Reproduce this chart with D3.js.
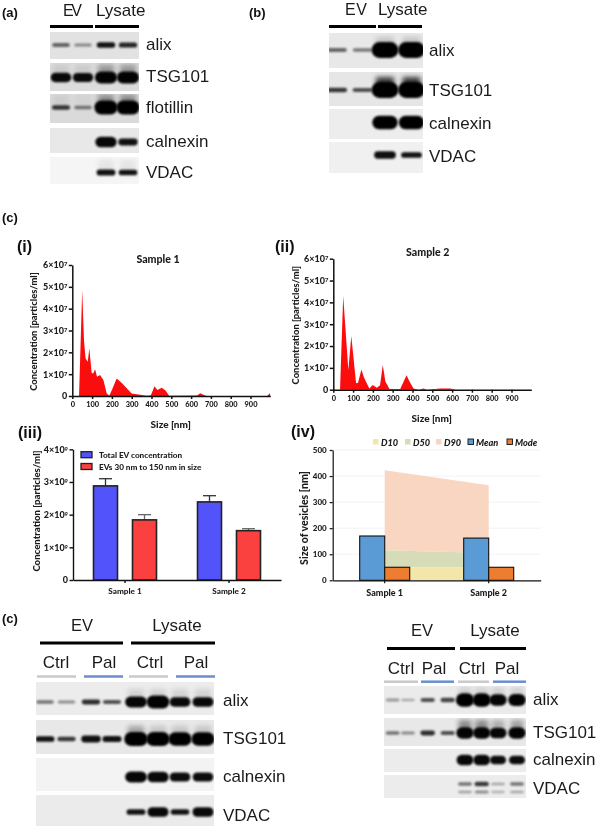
<!DOCTYPE html>
<html><head><meta charset="utf-8">
<script src="https://cdn.jsdelivr.net/npm/d3@7/dist/d3.min.js"></script>
<style>
html,body{margin:0;padding:0;background:#fff}
svg{display:block;filter:blur(0.3px)}
.wb{font-family:"Liberation Sans",Arial,sans-serif;fill:#1a1a1a}
.cal{font-family:Lato,"Open Sans",sans-serif;font-weight:900;fill:#1c1c1c}
.tag{font-family:"Liberation Sans",Arial,sans-serif;font-weight:700;fill:#111}
</style></head><body>
<svg id="c" width="600" height="828"></svg>
<script>
// ---------- data ----------
const sampleNames = ["Sample 1","Sample 2"];
const sizeTicks = [0,100,200,300,400,500,600,700,800,900];
const concTicks = [0,1,2,3,4,5,6];
const concTicks3 = [0,1,2,3,4];
const sizeYTicks = [0,100,200,300,400,500];

const s1Size = [34,50,59,67,78,86,98,106,115,125,140,157,174,187,200,224,250,275,300,351,376,397,415,430,452,472,489,630,646,667,680,984,998,1000];
const s1Conc = [0,4.85,2.55,1.72,1.57,2.18,1.04,1.04,1.22,.88,.96,.73,.12,.02,.27,.8,.6,.35,.12,.05,.01,.03,.45,.27,.38,.24,.01,.02,.13,.03,0,0,.13,0];
const s2Size = [34,50,76,91,115,125,142,155,182,199,220,236,250,263,284,338,370,385,405,431,456,473,540,591,617,997];
const s2Conc = [0,4.29,.9,2.46,.29,.32,.93,.56,.06,.21,.09,.2,1.13,.37,.03,.03,.66,.37,.05,0,.06,0,.05,.06,0,0];

const totalEV = [2.88,2.39];
const totalErr = [3.10,2.58];
const smallEV = [1.84,1.51];
const smallErr = [2.00,1.57];
const concSeries = ["Total EV concentration","EVs 30 nm to 150 nm in size"];

const d10 = [50,50];
const d50 = [115,105];
const d90 = [422,365];
const meanSize = [170,162];
const modeSize = [50,50];
const sizeSeries = ["D10","D50","D90","Mean","Mode"];

const blotAProteins = ["alix","TSG101","flotillin","calnexin","VDAC"];
const blotABands = [[.16,.10,.3,.27],[.62,.58,.85,.85],[.24,.13,1,1],[0,0,.72,.42],[0,0,.36,.32]];
const blotASmear = [[0,0,0,0],[.08,.08,.3,.3],[.05,.03,.35,.35],[0,0,0,0],[0,0,.06,.06]];
const blotBProteins = ["alix","TSG101","calnexin","VDAC"];
const blotBBands = [[.16,.13,1.15,1.15],[.24,.2,1.15,1.15],[0,0,.95,.95],[0,0,.45,.32]];
const blotBSmear = [[0,0,.15,.15],[0,0,.75,.75],[0,0,0,0],[0,0,0,0]];
const blotCProteins = ["alix","TSG101","calnexin","VDAC"];
const blotCBands = [[.14,.1,.26,.2,.75,.9,.62,.65],[.32,.24,.42,.36,1,1,.95,.95],[0,0,0,0,.75,.7,.6,.6],[0,0,0,0,.32,.65,.3,.65]];
const blotCSmear = [[0,0,0,0,.1,.1,.1,.1],[0,0,0,0,.3,.15,.15,.15],[0,0,0,0,0,0,0,0],[0,0,0,0,0,0,0,0]];
const blotDProteins = ["alix","TSG101","calnexin","VDAC",""];
const blotDBands = [[.08,.05,.2,.22,.95,.95,.8,.85],[.14,.1,.26,.2,.8,.8,.72,.8],[0,0,0,0,.7,.7,.55,.55],[0,0,0,0,.14,.24,.06,.14],[0,0,0,0,.07,.1,.04,.06]];
const blotDSmear = [[0,0,0,0,.1,.1,.1,.1],[0,0,0,0,.4,.4,.25,.3],[0,0,0,0,0,0,0,0],[0,0,0,0,0,0,0,0],[0,0,0,0,0,0,0,0]];

// ---------- helpers ----------
const svg = d3.select("#c");
const defs = svg.append("defs");
[["b1",1.1],["b2",2.4]].forEach(([id,s])=>defs.append("filter").attr("id",id)
  .attr("x","-30%").attr("y","-60%").attr("width","160%").attr("height","220%")
  .append("feGaussianBlur").attr("stdDeviation",s));

function text(x,y,t,cls,size,opts={}){
  const n = svg.append("text").attr("x",x).attr("y",y).attr("class",cls)
    .attr("font-size",size).attr("text-anchor",opts.anchor||"start").text(t);
  if(opts.rotate) n.attr("transform",`rotate(-90 ${x} ${y})`);
  if(opts.italic) n.attr("font-style","italic");
  return n;
}
const dark = d3.scaleLinear().domain([0,.3,1]).range([.15,.92,1]).clamp(true);
const thick = d3.scaleLinear().domain([0,1]).range([.9,7]);

function blot(cfg,names,bands,smear){
  const lx = i=>cfg.lanes[i];
  const step = (cfg.lanes[cfg.lanes.length-1]-cfg.lanes[0])/(cfg.lanes.length-1);
  names.forEach((name,r)=>{
    const [y0,y1,by,ty] = cfg.rows[r];
    if(name){
      svg.append("rect").attr("x",cfg.x0).attr("y",y0).attr("width",cfg.x1-cfg.x0).attr("height",y1-y0)
        .attr("fill",cfg.shade[r]);
      text(cfg.labelX,ty+6,name,"wb",cfg.font);
    }
    const g = svg.append("g").attr("clip-path",`url(#${cfg.id}${r})`);
    const clip = defs.append("clipPath").attr("id",cfg.id+r);
    clip.append("rect").attr("x",cfg.x0).attr("y",y0).attr("width",cfg.x1-cfg.x0).attr("height",y1-y0);
    g.selectAll("rect.s").data(smear[r]).join("rect").attr("class","s")
      .attr("x",(d,i)=>lx(i)-step*.36).attr("width",step*.72)
      .attr("y",by-13).attr("height",13).attr("fill","#000")
      .attr("opacity",d=>d).attr("filter","url(#b2)");
    g.selectAll("rect.b").data(bands[r]).join("rect").attr("class","b")
      .attr("x",(d,i)=>lx(i)-step*(.37+.15*d)).attr("width",d=>2*step*(.37+.15*d))
      .attr("y",d=>by-thick(d)).attr("height",d=>2*thick(d))
      .attr("rx",d=>thick(d)).attr("fill","#000")
      .attr("opacity",d=>d===0?0:dark(d)).attr("filter","url(#b1)");
  });
}
function hbar(x0,x1,y,h,c){
  svg.append("rect").attr("x",x0).attr("y",y-h/2).attr("width",x1-x0).attr("height",h).attr("fill",c);
}
function powerLabels(axisG,exp){
  axisG.selectAll(".tick text").each(function(d){
    const t = d3.select(this);
    if(d===0){t.text("0");return;}
    t.text(d+"×10");
    t.append("tspan").attr("dy","-0.35em").attr("font-size","0.65em").text(exp);
  });
}
function styleAxis(g,w){
  g.selectAll("path,line").attr("stroke","#111").attr("stroke-width",w);
  g.selectAll("text").attr("class","cal").attr("font-family",null);
  g.attr("font-family",null);
}

// ---------- panel tags ----------
text(2,17,"(a)","tag",13);
text(249,17,"(b)","tag",13);
text(2,222,"(c)","tag",13);
text(2,623,"(c)","tag",13);
text(17,252,"(i)","tag",16);
text(275,252,"(ii)","tag",16);
text(18,438,"(iii)","tag",16);
text(291,437,"(iv)","tag",16);

// ---------- blot a ----------
text(63,15.5,"EV","wb",16).attr("textLength",19);
text(96,15.5,"Lysate","wb",17);
hbar(50,93,26.5,3,"#000"); hbar(95,139,26.5,3,"#000");
blot({id:"ca",x0:50,x1:139,lanes:[61,83,106,128],labelX:146,font:17,
  rows:[[32,59,45,43.5],[63,91,77.5,76],[94,123,107.5,107],[128,153,142,141],[157,184,172.5,172]],
  shade:["#e2e2e2","#dcdcdc","#dadada","#e8e8e8","#f5f5f5"]},blotAProteins,blotABands,blotASmear);

// ---------- blot b ----------
text(345,15,"EV","wb",16).attr("textLength",22);
text(378,15,"Lysate","wb",17);
hbar(329,376,26.5,3,"#000"); hbar(378,422,26.5,3,"#000");
blot({id:"cb",x0:329,x1:423,lanes:[337,362.5,385,411.5],labelX:429,font:17,
  rows:[[33,68,50,49.5],[72,106,90,90],[109,139,122.5,122.5],[142,173,155,155.5]],
  shade:["#e8e8e8","#e6e6e6","#ededed","#f0f0f0"]},blotBProteins,blotBBands,blotBSmear);

// ---------- nanoparticle traces ----------
function trace(x0,y0,yTop,title,titleX,titleY,labelY,sizes,conc,sizeLabelY,sizeLabelX){
  const x = d3.scaleLinear().domain([0,1000]).range([x0,x0+198]);
  const y = d3.scaleLinear().domain([0,6]).range([y0,yTop]);
  const area = d3.area().x((d,i)=>x(sizes[i])).y0(y(0)).y1(d=>y(d));
  svg.append("path").datum(conc).attr("d",area).attr("fill","#fb0d0d");
  const gx = svg.append("g").attr("transform",`translate(0,${y0})`)
    .call(d3.axisBottom(x).tickValues(sizeTicks).tickSize(3).tickSizeOuter(0).tickPadding(3));
  gx.attr("font-size",7.4); styleAxis(gx,1.5);
  const gy = svg.append("g").attr("transform",`translate(${x0},0)`)
    .call(d3.axisLeft(y).tickValues(concTicks).tickSize(3.5).tickSizeOuter(0).tickPadding(1.5));
  gy.attr("font-size",9); styleAxis(gy,1.5); powerLabels(gy,"7");
  text(titleX,titleY,title,"cal",10.6,{anchor:"middle"});
  text(sizeLabelX,sizeLabelY,"Size [nm]","cal",10,{anchor:"middle"});
  text(labelY,(y0+yTop)/2+1,"Concentration [particles/ml]","cal",9.4,{anchor:"middle",rotate:true});
}
trace(72.3,396,265,sampleNames[0],158,262.5,37,s1Size,s1Conc,428,170.7);
trace(333.3,389.7,258.7,sampleNames[1],427.7,256,299,s2Size,s2Conc,421.5,431.7);

// ---------- concentration bars (iii) ----------
(function(){
  const x = d3.scaleBand().domain(sampleNames).range([73,281]);
  const y = d3.scaleLinear().domain([0,4]).range([580,449.3]);
  const off = d3.scalePoint().domain(concSeries).range([-19.5,19.5]);
  const cols = d3.scaleOrdinal().domain(concSeries).range(["#5353fb","#fb4040"]);
  const errCols = d3.scaleOrdinal().domain(concSeries).range(["#333","#666"]);
  [[totalEV,totalErr,concSeries[0]],[smallEV,smallErr,concSeries[1]]].forEach(([vals,errs,name])=>{
    const cx = i=>x(sampleNames[i])+x.bandwidth()/2+off(name);
    vals.forEach((v,i)=>{
      svg.append("line").attr("x1",cx(i)).attr("x2",cx(i)).attr("y1",y(v)).attr("y2",y(errs[i])).attr("stroke",errCols(name)).attr("stroke-width",1.3);
      svg.append("line").attr("x1",cx(i)-6.5).attr("x2",cx(i)+6.5).attr("y1",y(errs[i])).attr("y2",y(errs[i])).attr("stroke",errCols(name)).attr("stroke-width",1.3);
      svg.append("rect").attr("x",cx(i)-12).attr("width",24).attr("y",y(v)).attr("height",y(0)-y(v))
        .attr("fill",cols(name)).attr("stroke","#222").attr("stroke-width",1.6);
    });
  });
  const gx = svg.append("g").attr("transform","translate(0,580)")
    .call(d3.axisBottom(x).tickSize(3).tickSizeOuter(0).tickPadding(5));
  gx.attr("font-size",8.2); styleAxis(gx,1.4);
  const gy = svg.append("g").attr("transform","translate(73,0)")
    .call(d3.axisLeft(y).tickValues(concTicks3).tickSize(3.5).tickSizeOuter(0).tickPadding(1.5));
  gy.attr("font-size",9); styleAxis(gy,1.4); powerLabels(gy,"9");
  text(40,511,"Concentration [particles/ml]","cal",9.6,{anchor:"middle",rotate:true});
  const ly = d3.scalePoint().domain(concSeries).range([454.7,466.5]);
  concSeries.forEach(n=>{
    svg.append("rect").attr("x",81).attr("y",ly(n)-3).attr("width",11).attr("height",6)
      .attr("fill",cols(n)).attr("stroke","#222").attr("stroke-width",1.3);
    text(99,ly(n)+3,n,"cal",8.2);
  });
})();

// ---------- size plot (iv) ----------
(function(){
  const x = d3.scaleBand().domain(sampleNames).range([332.7,540.7]);
  const y = d3.scaleLinear().domain([0,500]).range([580.3,450]);
  const cx = i=>x(sampleNames[i])+x.bandwidth()/2;
  svg.append("g").selectAll("line").data(sizeYTicks.slice(1)).join("line")
    .attr("x1",332.7).attr("x2",541).attr("y1",d=>y(d)).attr("y2",d=>y(d)).attr("stroke","#efefef").attr("stroke-width",.8);
  const colour = {D10:"#f2e6a9",D50:"#d6dcb8",D90:"#f9d6c1",Mean:"#5b9bd5",Mode:"#ed7d31"};
  const band = (lo,hi,c)=>svg.append("path").datum(hi).attr("fill",c)
    .attr("d",d3.area().x((d,i)=>cx(i)).y0((d,i)=>y(lo[i])).y1(d=>y(d)));
  band(d50,d90,colour.D90);
  band(d10,d50,colour.D50);
  band([0,0],d10,colour.D10);
  [[meanSize,-12.5,colour.Mean],[modeSize,12.5,colour.Mode]].forEach(([vals,off,c])=>{
    svg.append("g").selectAll("rect").data(vals).join("rect")
      .attr("x",(d,i)=>cx(i)+off-12.5).attr("width",25)
      .attr("y",d=>y(d)).attr("height",d=>y(0)-y(d))
      .attr("fill",c).attr("stroke","#111").attr("stroke-width",1.1);
  });
  const gx = svg.append("g").attr("transform","translate(0,580.3)")
    .call(d3.axisBottom(x).tickSize(3).tickSizeOuter(0).tickPadding(6));
  gx.attr("font-size",9); styleAxis(gx,1.2);
  const gy = svg.append("g").attr("transform","translate(332.7,0)")
    .call(d3.axisLeft(y).tickValues(sizeYTicks).tickSize(3).tickSizeOuter(0).tickPadding(3));
  gy.attr("font-size",8); styleAxis(gy,1.2);
  text(308,518,"Size of vesicles  [nm]","cal",10.6,{anchor:"middle",rotate:true});
  const lx = d3.scaleOrdinal().domain(sizeSeries).range([373,405,436,468,507]);
  sizeSeries.forEach(n=>{
    const boxed = n==="Mean"||n==="Mode";
    svg.append("rect").attr("x",lx(n)).attr("y",439).attr("width",5.5).attr("height",5.5).attr("fill",colour[n])
      .attr("stroke",boxed?"#111":"none").attr("stroke-width",.9);
    text(lx(n)+8,445.5,n,"cal",9.2,{italic:true});
  });
})();

// ---------- blot c ----------
text(82,631,"EV","wb",16.5,{anchor:"middle"});
text(177,631,"Lysate","wb",17,{anchor:"middle"});
hbar(40,123,643,3,"#000"); hbar(131,215,643,3,"#000");
[["Ctrl",56],["Pal",104],["Ctrl",150],["Pal",196]].forEach(([t,xx])=>text(xx,668,t,"wb",17,{anchor:"middle"}));
[[37,76,"#c9c9c9"],[84,123,"#6c8fcc"],[129,168,"#c9c9c9"],[176,215,"#6c8fcc"]].forEach(([a,b,c])=>hbar(a,b,676.5,2.5,c));
blot({id:"cc",x0:36,x1:214,lanes:[45,66.5,91,112,136,158,180,203],labelX:223,font:17,
  rows:[[682,715,702,700],[720,754,739,738],[758,791,777,775.5],[795,826,812,815]],
  shade:["#ececec","#e8e8e8","#f3f3f3","#ebebeb"]},blotCProteins,blotCBands,blotCSmear);

// ---------- blot d ----------
text(422,636,"EV","wb",16.5,{anchor:"middle"});
text(495,636,"Lysate","wb",17,{anchor:"middle"});
hbar(387,455,648.5,3,"#000"); hbar(460,526,648.5,3,"#000");
[["Ctrl",401],["Pal",434],["Ctrl",472],["Pal",507]].forEach(([t,xx])=>text(xx,674,t,"wb",17,{anchor:"middle"}));
[[384,418,"#c9c9c9"],[421,454,"#6c8fcc"],[458,489,"#c9c9c9"],[493,526,"#6c8fcc"]].forEach(([a,b,c])=>hbar(a,b,681.7,2.5,c));
blot({id:"cd",x0:384,x1:526,lanes:[392.7,408,427.7,447.7,465,481.7,498,517],labelX:533,font:17,
  rows:[[686,714,700,699],[718,746,733,731.5],[749,772,760,759],[775,798,784,787.5],[775,798,792,792]],
  shade:["#ebebeb","#e8e8e8","#ececec","#ececec","#ececec"]},blotDProteins,blotDBands,blotDSmear);
</script></body></html>
